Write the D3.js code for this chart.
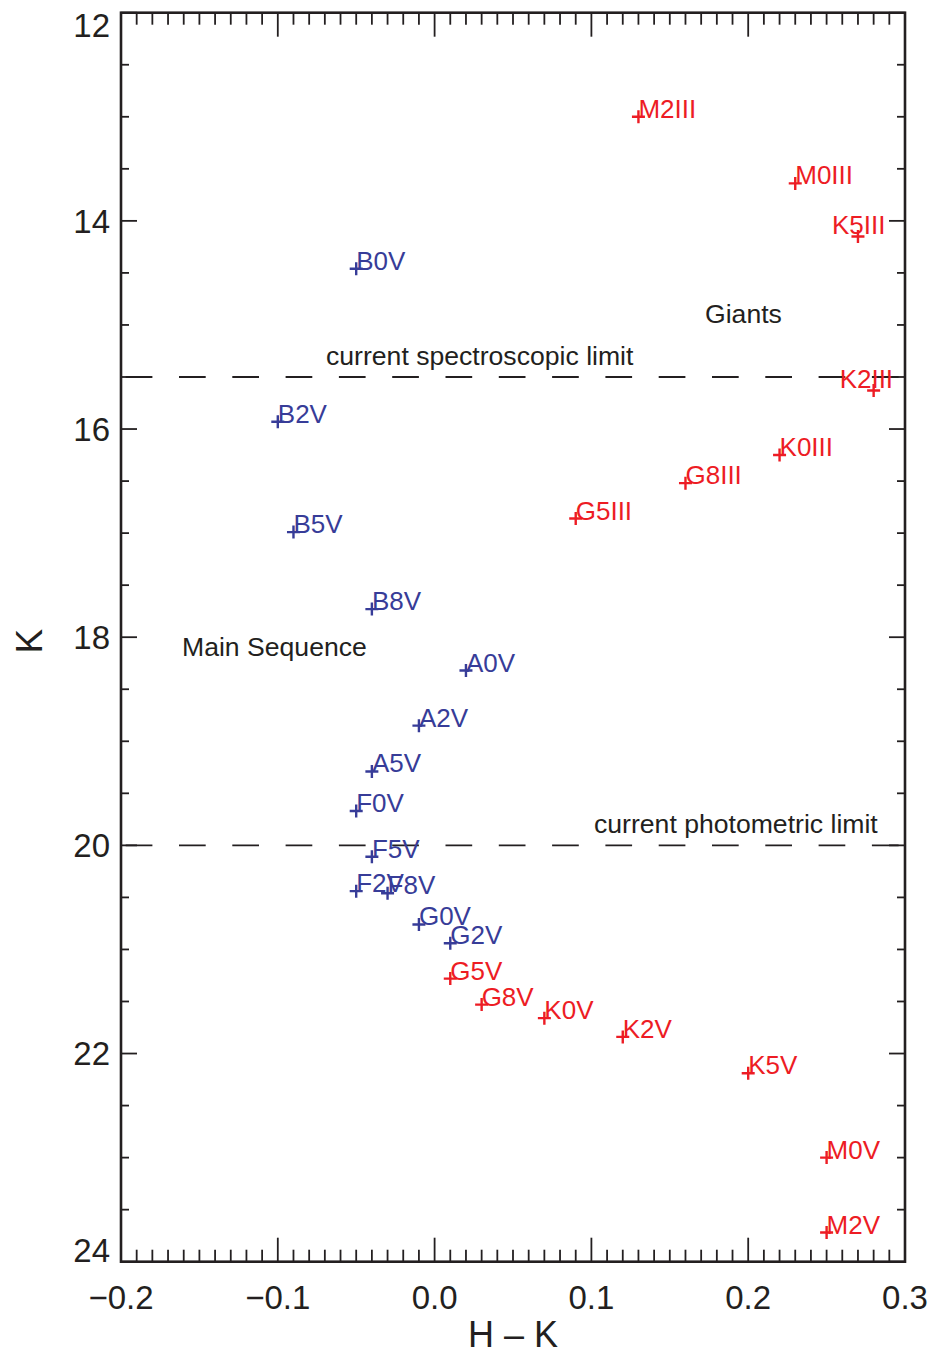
<!DOCTYPE html>
<html>
<head>
<meta charset="utf-8">
<script src="https://cdn.jsdelivr.net/npm/d3@7"></script>
<style>
  html, body { margin: 0; padding: 0; background: #fff; }
  svg { display: block; }
  text { font-family: "Liberation Sans", Arial, Helvetica, sans-serif; }
</style>
</head>
<body>
<svg id="chart" width="934" height="1354"></svg>
<script>
// Early main-sequence dwarfs (blue)
const earlyLabels = ["B0V", "B2V", "B5V", "B8V", "A0V", "A2V", "A5V", "F0V", "F5V", "F2V", "F8V", "G0V", "G2V"];
const earlyHK     = [-0.05, -0.10, -0.09, -0.04, 0.02, -0.01, -0.04, -0.05, -0.04, -0.05, -0.03, -0.01, 0.01];
const earlyK      = [14.46, 15.93, 16.99, 17.73, 18.32, 18.85, 19.29, 19.67, 20.11, 20.44, 20.46, 20.76, 20.94];

// Late main-sequence dwarfs (red)
const lateLabels = ["G5V", "G8V", "K0V", "K2V", "K5V", "M0V", "M2V"];
const lateHK     = [0.01, 0.03, 0.07, 0.12, 0.20, 0.25, 0.25];
const lateK      = [21.28, 21.53, 21.66, 21.84, 22.19, 23.00, 23.72];

// Giants (red)
const giantLabels = ["M2III", "M0III", "K5III", "K2III", "K0III", "G8III", "G5III"];
const giantHK     = [0.13, 0.23, 0.27, 0.28, 0.22, 0.16, 0.09];
const giantK      = [13.00, 13.64, 14.15, 15.63, 16.25, 16.52, 16.86];

// Detection limits
const spectroscopicLimit = 15.5;
const photometricLimit = 20.0;

// Axis ticks
const xTicks = [-0.2, -0.1, 0.0, 0.1, 0.2, 0.3];
const xTickLabels = ["\u22120.2", "\u22120.1", "0.0", "0.1", "0.2", "0.3"];
const yTicks = [12, 14, 16, 18, 20, 22, 24];
const yTickLabels = ["12", "14", "16", "18", "20", "22", "24"];

const BLUE = "#373c98";
const RED = "#ed1c24";
const INK = "#231f20";

const svg = d3.select("#chart");
const L = 121, R = 905, T = 12.7, B = 1261.7;

const x = d3.scaleLinear().domain([-0.2, 0.3]).range([L, R]);
const y = d3.scaleLinear().domain([12, 24]).range([T, B]);

// Minor tick positions
const xMinor = d3.range(-20, 31).map(i => i / 100).filter(v => !xTicks.some(t => Math.abs(t - v) < 1e-9));
const yMinor = d3.range(24, 49).map(i => i / 2).filter(v => !yTicks.includes(v));

const tickG = svg.append("g").attr("stroke", INK).attr("stroke-width", 1.8);
// bottom & top ticks
function xTick(v, len) {
  tickG.append("line").attr("x1", x(v)).attr("x2", x(v)).attr("y1", B).attr("y2", B - len);
  tickG.append("line").attr("x1", x(v)).attr("x2", x(v)).attr("y1", T).attr("y2", T + len);
}
xTicks.forEach(v => xTick(v, 24));
xMinor.forEach(v => xTick(v, 12));
// left & right ticks
function yTick(v, len) {
  tickG.append("line").attr("x1", L).attr("x2", L + len).attr("y1", y(v)).attr("y2", y(v));
  tickG.append("line").attr("x1", R).attr("x2", R - len).attr("y1", y(v)).attr("y2", y(v));
}
yTicks.forEach(v => yTick(v, 16));
yMinor.forEach(v => yTick(v, 8));

// Frame
svg.append("rect")
  .attr("x", L).attr("y", T).attr("width", R - L).attr("height", B - T)
  .attr("fill", "none").attr("stroke", INK).attr("stroke-width", 2.6);

// Tick labels
const tickFont = 33;
svg.append("g").selectAll("text").data(xTicks).join("text")
  .attr("x", d => x(d)).attr("y", 1309)
  .attr("text-anchor", "middle").attr("font-size", tickFont).attr("fill", INK)
  .text((d, i) => xTickLabels[i]);

const capH = tickFont * 0.716;
svg.append("g").selectAll("text").data(yTicks).join("text")
  .attr("x", 110)
  .attr("y", d => Math.max(T + capH + 0.5, Math.min(B, y(d) + capH / 2)))
  .attr("text-anchor", "end").attr("font-size", tickFont).attr("fill", INK)
  .text((d, i) => yTickLabels[i]);

// Axis titles
svg.append("text").attr("x", (L + R) / 2).attr("y", 1347)
  .attr("text-anchor", "middle").attr("font-size", 36).attr("fill", INK)
  .text("H \u2013 K");
svg.append("text").attr("transform", `translate(42,${(T + B) / 2 + 4}) rotate(-90)`)
  .attr("text-anchor", "middle").attr("font-size", 37).attr("fill", INK)
  .text("K");

// Limit lines
[spectroscopicLimit, photometricLimit].forEach(k => {
  svg.append("line")
    .attr("x1", L).attr("x2", R).attr("y1", y(k)).attr("y2", y(k))
    .attr("stroke", INK).attr("stroke-width", 1.8)
    .attr("stroke-dasharray", "26.7 26.6").attr("stroke-dashoffset", 48.6);
});

// Annotations
const notes = [
  { t: "Giants", x: 705, y: 323 },
  { t: "current spectroscopic limit", x: 326, y: 365 },
  { t: "Main Sequence", x: 182, y: 656 },
  { t: "current photometric limit", x: 594, y: 833 }
];
svg.append("g").selectAll("text").data(notes).join("text")
  .attr("x", d => d.x).attr("y", d => d.y)
  .attr("font-size", 26.6).attr("fill", INK).text(d => d.t);

// Labels that would hit the right frame are pulled back to the left
const labelNudge = { "K5III": [-26, -2], "K2III": [-34, -3] };

function drawSeries(labels, hk, k, color) {
  const rows = labels.map((lab, i) => ({ lab, hk: hk[i], k: k[i] }));
  const g = svg.append("g");
  const s = 6.5;
  g.selectAll("path").data(rows).join("path")
    .attr("d", d => {
      const cx = x(d.hk), cy = y(d.k);
      return `M${cx - s},${cy}H${cx + s}M${cx},${cy - s}V${cy + s}`;
    })
    .attr("stroke", color).attr("stroke-width", 2.4).attr("fill", "none");
  g.selectAll("text").data(rows).join("text")
    .attr("x", d => x(d.hk) + (labelNudge[d.lab] ? labelNudge[d.lab][0] : 0))
    .attr("y", d => y(d.k) + (labelNudge[d.lab] ? labelNudge[d.lab][1] : 1))
    .attr("font-size", 26).attr("fill", color)
    .text(d => d.lab);
}

drawSeries(earlyLabels, earlyHK, earlyK, BLUE);
drawSeries(lateLabels, lateHK, lateK, RED);
drawSeries(giantLabels, giantHK, giantK, RED);
</script>
</body>
</html>
